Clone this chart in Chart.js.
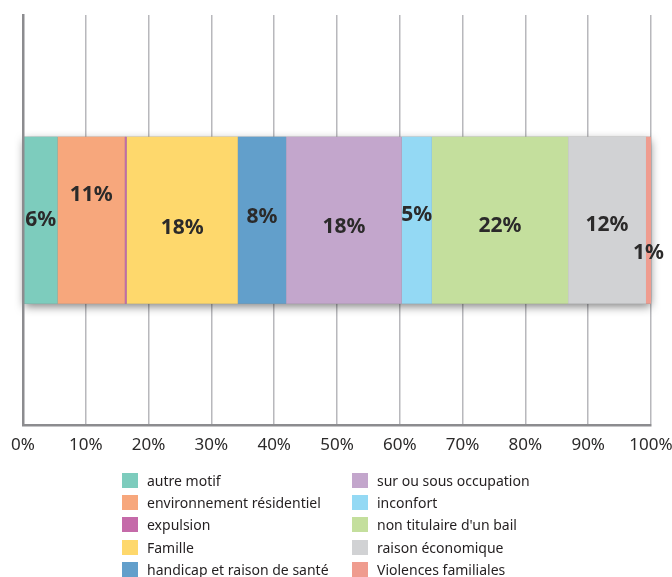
<!DOCTYPE html>
<html>
<head>
<meta charset="utf-8">
<script src="https://cdn.jsdelivr.net/npm/chart.js@4"></script>
<style>
  body { margin: 0; background: #fff; }
  #wrap { position: relative; width: 672px; height: 577px; overflow: hidden; }
  #legend { position: absolute; left: 122px; top: 469px; font-family: "Noto Sans", sans-serif; font-size: 14px; color: #231f20; }
  .col { position: absolute; top: 0; width: 230px; }
  .item { height: 22.3px; display: flex; align-items: center; white-space: nowrap; }
  .sw { width: 16px; height: 15px; margin-right: 9px; flex: none; }
</style>
</head>
<body>
<div id="wrap">
  <canvas id="myChart" width="672" height="577"></canvas>
  <div id="legend"></div>
</div>
<script>
const categories = ['motifs'];
const seriesNames = ['autre motif', 'environnement résidentiel', 'expulsion', 'Famille',
    'handicap et raison de santé', 'sur ou sous occupation', 'inconfort',
    'non titulaire d\'un bail', 'raison économique', 'Violences familiales'];
const seriesValues = [5.5, 10.7, 0.3, 17.7, 7.7, 18.4, 4.8, 21.7, 12.4, 0.8];
const seriesColors = ['#7dccbd', '#f7a77c', '#c56aa9', '#fed86c', '#629fcb',
    '#c3a6cc', '#94d9f4', '#c4df9d', '#d1d2d4', '#ef9c8f'];
const tickValues = [0, 10, 20, 30, 40, 50, 60, 70, 80, 90, 100];

// decalage vertical des etiquettes, comme sur l'original
const labelShift = [0, -25, 8, 8, -3, 7, -5, 6, 5, 33];

const ctx = document.getElementById('myChart');

// ombre portee sous la barre entiere
const barShadow = {
    id: 'barShadow',
    beforeDatasetsDraw(chart) {
        let left = Infinity, right = -Infinity, top = 0, bottom = 0;
        chart.data.datasets.forEach((ds, i) => {
            const bar = chart.getDatasetMeta(i).data[0];
            left = Math.min(left, bar.base, bar.x);
            right = Math.max(right, bar.base, bar.x);
            top = bar.y - bar.height / 2;
            bottom = bar.y + bar.height / 2;
        });
        const c = chart.ctx;
        c.save();
        c.shadowColor = 'rgba(0,0,0,0.5)';
        c.shadowBlur = 9;
        c.shadowOffsetX = 0;
        c.shadowOffsetY = 3;
        c.fillStyle = '#888';
        c.fillRect(left, top, right - left, bottom - top);
        c.restore();
    }
};

// etiquettes de pourcentage dans chaque segment
const barLabels = {
    id: 'barLabels',
    afterDatasetsDraw(chart) {
        const c = chart.ctx;
        c.save();
        c.font = 'bold 21px "Noto Sans", sans-serif';
        c.fillStyle = '#2b2a2a';
        c.textAlign = 'center';
        c.textBaseline = 'middle';
        chart.data.datasets.forEach((ds, i) => {
            const v = Math.round(ds.data[0]);
            if (v < 1) return;
            const bar = chart.getDatasetMeta(i).data[0];
            c.fillText(v + '%', (bar.x + bar.base) / 2, bar.y + labelShift[i]);
        });
        c.restore();
    }
};

new Chart(ctx, {
    type: 'bar',
    data: {
        labels: categories,
        datasets: seriesNames.map((name, i) => ({
            label: name,
            data: [seriesValues[i]],
            backgroundColor: seriesColors[i],
            borderWidth: 0,
            categoryPercentage: 1,
            barPercentage: 0.407,
        }))
    },
    options: {
        indexAxis: 'y',
        responsive: false,
        animation: false,
        layout: { padding: { left: 23, right: 21, top: 15, bottom: 113 } },
        plugins: { legend: { display: false }, tooltip: { enabled: false } },
        scales: {
            x: {
                stacked: true,
                min: 0,
                max: 100,
                afterBuildTicks: axis => { axis.ticks = tickValues.map(v => ({ value: v })); },
                // les etiquettes debordent librement sur les cotes
                afterFit: axis => { axis.paddingLeft = 0; axis.paddingRight = 0; },
                grid: { color: '#b8b8bc', lineWidth: 1.5, drawTicks: false },
                border: { color: '#8c8c8f', width: 2.5 },
                ticks: {
                    padding: 9,
                    color: '#2b2a2a',
                    font: { family: '"Noto Sans", sans-serif', size: 17 },
                    callback: v => v + '%'
                }
            },
            y: {
                stacked: true,
                grid: { display: false, drawTicks: false },
                border: { color: '#8c8c8f', width: 2.5, z: 1 },
                ticks: { display: false }
            }
        }
    },
    plugins: [barShadow, barLabels]
});

// legende en deux colonnes
const legend = document.getElementById('legend');
[0, 1].forEach(col => {
    const div = document.createElement('div');
    div.className = 'col';
    div.style.left = (col * 230) + 'px';
    seriesNames.slice(col * 5, col * 5 + 5).forEach((name, k) => {
        const i = col * 5 + k;
        div.innerHTML += `<div class="item"><span class="sw" style="background:${seriesColors[i]}"></span>${name}</div>`;
    });
    legend.appendChild(div);
});
</script>
</body>
</html>
